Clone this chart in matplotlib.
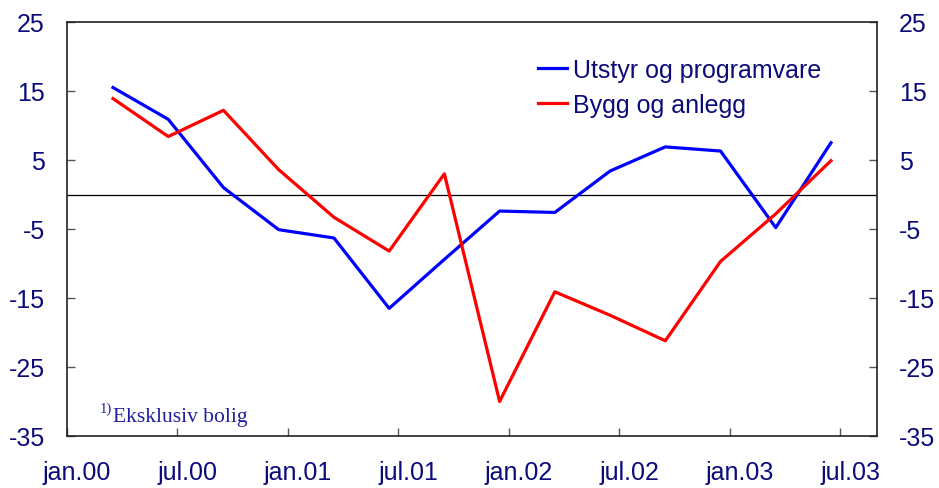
import matplotlib.pyplot as plt
import matplotlib.transforms as mtransforms

# Quarterly data, plotted mid last month of each quarter (months since jan.00)
months = [2.5, 5.5, 8.5, 11.5, 14.5, 17.5, 20.5, 23.5, 26.5, 29.5, 32.5, 35.5, 38.5, 41.5]
utstyr = [15.5, 10.9, 1.0, -5.1, -6.3, -16.5, -9.4, -2.4, -2.6, 3.4, 6.9, 6.3, -4.8, 7.5]
bygg = [13.9, 8.4, 12.2, 3.6, -3.3, -8.2, 3.0, -30.0, -14.1, -17.5, -21.2, -9.7, -2.8, 4.9]

tick_pos = [0, 6, 12, 18, 24, 30, 36, 42]
tick_labels = ['jan.00', 'jul.00', 'jan.01', 'jul.01', 'jan.02', 'jul.02', 'jan.03', 'jul.03']
y_ticks = [25, 15, 5, -5, -15, -25, -35]

navy = '#0b0b7a'
plt.rcParams['font.family'] = ['Liberation Sans', 'DejaVu Sans']
plt.rcParams['axes.unicode_minus'] = False

fig = plt.figure(figsize=(9.39, 4.89), dpi=100)
ax = fig.add_axes([67 / 939, 1 - 437 / 489, 810 / 939, 414 / 489])

ax.plot(months, utstyr, color='#0000ff', lw=2.3, label='Utstyr og programvare')
ax.plot(months, bygg, color='#ff0000', lw=2.3, label='Bygg og anlegg')
ax.axhline(0, color='black', lw=0.9, zorder=1)

ax.set_xlim(0, 44)
ax.set_ylim(-35, 25)
ax.set_xticks(tick_pos)
ax.set_xticklabels(tick_labels)
ax.set_yticks(y_ticks)
ax.tick_params(axis='both', direction='in', length=6, width=1, color='#555555',
               labelsize=18, labelcolor=navy)
ax.tick_params(axis='x', pad=17)
ax.tick_params(axis='y', right=True, labelright=True, pad=16)

# shift x labels slightly to the right like the original
offset = mtransforms.ScaledTranslation(10 / 100, 0, fig.dpi_scale_trans)
for lab in ax.get_xticklabels():
    lab.set_transform(lab.get_transform() + offset)

for s in ax.spines.values():
    s.set_linewidth(1.2)
    s.set_color('#222222')

leg = ax.legend(loc='upper left', bbox_to_anchor=(0.581, 0.913), frameon=False,
                fontsize=18, handlelength=1.16, handletextpad=0.25, labelspacing=0.42,
                borderaxespad=0, borderpad=0)
for t in leg.get_texts():
    t.set_color(navy)

# footnote
ax.text(0.0407, 0.058, '1)', transform=ax.transAxes,
        family='Liberation Serif', fontsize=10.5, color='#2020a0', va='baseline')
ax.text(0.0568, 0.036, 'Eksklusiv bolig', transform=ax.transAxes,
        family='Liberation Serif', fontsize=15.5, color='#2020a0', va='baseline')

fig.savefig('out.png', dpi=100)
